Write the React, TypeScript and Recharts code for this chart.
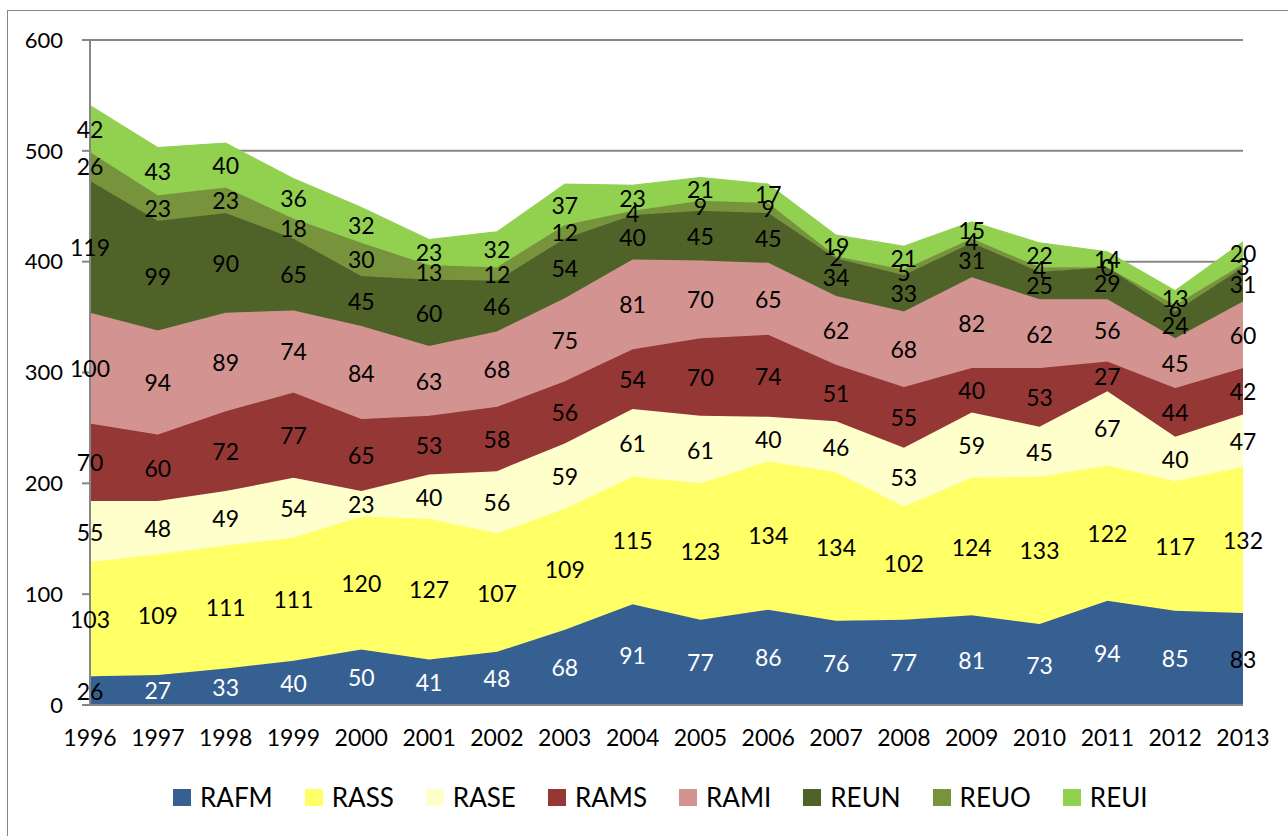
import { Area, ComposedChart, LabelList, Line, XAxis, YAxis, CartesianGrid } from "recharts";

const years = ["1996", "1997", "1998", "1999", "2000", "2001", "2002", "2003", "2004", "2005", "2006", "2007", "2008", "2009", "2010", "2011", "2012", "2013"];

const RAFM = [26, 27, 33, 40, 50, 41, 48, 68, 91, 77, 86, 76, 77, 81, 73, 94, 85, 83];
const RASS = [103, 109, 111, 111, 120, 127, 107, 109, 115, 123, 134, 134, 102, 124, 133, 122, 117, 132];
const RASE = [55, 48, 49, 54, 23, 40, 56, 59, 61, 61, 40, 46, 53, 59, 45, 67, 40, 47];
const RAMS = [70, 60, 72, 77, 65, 53, 58, 56, 54, 70, 74, 51, 55, 40, 53, 27, 44, 42];
const RAMI = [100, 94, 89, 74, 84, 63, 68, 75, 81, 70, 65, 62, 68, 82, 62, 56, 45, 60];
const REUN = [119, 99, 90, 65, 45, 60, 46, 54, 40, 45, 45, 34, 33, 31, 25, 29, 24, 31];
const REUO = [26, 23, 23, 18, 30, 13, 12, 12, 4, 9, 9, 2, 5, 4, 4, 0, 6, 3];
const REUI = [42, 43, 40, 36, 32, 23, 32, 37, 23, 21, 17, 19, 21, 15, 22, 14, 13, 20];

const seriesNames = ["RAFM", "RASS", "RASE", "RAMS", "RAMI", "REUN", "REUO", "REUI"];
const seriesValues = [RAFM, RASS, RASE, RAMS, RAMI, REUN, REUO, REUI];
const seriesColors = ["#376092", "#FFFF66", "#FFFFCC", "#953735", "#D39391", "#4F6228", "#77933C", "#92D050"];

const yTicks = [0, 100, 200, 300, 400, 500, 600];

const FONT = "Lato, 'Open Sans', sans-serif";
const GRID = "#868686";

// one row per year, plus the middle of each band so the labels sit inside it
const data = years.map((year, i) => {
  const row: Record<string, string | number> = { year };
  let base = 0;
  seriesNames.forEach((name, s) => {
    const v = seriesValues[s][i];
    row[name] = v;
    row[`mid_${name}`] = base + v / 2;
    base += v;
  });
  return row;
});

function bandLabel(name: string) {
  return (props: any) => {
    const { x, y, value, index } = props;
    const white = name === "RAFM" && index > 0 && index < years.length - 1;
    return (
      <text
        x={x}
        y={y}
        fill={white ? "#ffffff" : "#000000"}
        textAnchor="middle"
        dominantBaseline="central"
        fontSize={23}
        fontFamily={FONT}
      >
        {value}
      </text>
    );
  };
}

function LegendRow() {
  return (
    <div
      style={{
        position: "absolute",
        left: 173,
        top: 781,
        display: "flex",
        alignItems: "center",
        fontFamily: FONT,
        fontSize: 26,
        color: "#000",
      }}
    >
      {seriesNames.map((name, s) => (
        <div key={name} style={{ display: "flex", alignItems: "center", marginRight: 32 }}>
          <span style={{ width: 18, height: 17, background: seriesColors[s], marginRight: 9, display: "inline-block" }} />
          <span>{name}</span>
        </div>
      ))}
    </div>
  );
}

export default function App() {
  return (
    <div style={{ position: "absolute", left: 0, top: 0, width: 1288, height: 836, background: "#fff", overflow: "hidden" }}>
      <div
        style={{
          position: "absolute",
          left: 7,
          top: 10,
          width: 1300,
          height: 900,
          borderLeft: `1.5px solid ${GRID}`,
          borderTop: `1.5px solid ${GRID}`,
        }}
      />
      <div style={{ position: "absolute", left: 0, top: 0 }}>
        <ComposedChart width={1288} height={836} data={data} margin={{ top: 40, right: 45, bottom: 101, left: 30 }}>
          <CartesianGrid vertical={false} stroke={GRID} strokeWidth={2} />
          <XAxis
            dataKey="year"
            scale="point"
            padding={{ left: 0, right: 0 }}
            height={30}
            tickLine={false}
            tickSize={0}
            tickMargin={25}
            axisLine={{ stroke: GRID, strokeWidth: 2 }}
            tick={{ fill: "#000", fontSize: 23, fontFamily: FONT }}
            interval={0}
          />
          <YAxis
            width={60}
            domain={[0, 600]}
            ticks={yTicks}
            tickSize={8}
            tickMargin={19}
            axisLine={{ stroke: GRID, strokeWidth: 2 }}
            tickLine={{ stroke: GRID, strokeWidth: 2 }}
            tick={{ fill: "#000", fontSize: 22, fontFamily: FONT }}
          />
          {seriesNames.map((name, s) => (
            <Area
              key={name}
              type="linear"
              dataKey={name}
              stackId="total"
              fill={seriesColors[s]}
              fillOpacity={1}
              stroke={seriesColors[s]}
              strokeWidth={1}
              isAnimationActive={false}
              dot={false}
              activeDot={false}
            />
          ))}
          {seriesNames.map((name) => (
            <Line
              key={`mid_${name}`}
              type="linear"
              dataKey={`mid_${name}`}
              stroke="none"
              dot={false}
              activeDot={false}
              legendType="none"
              isAnimationActive={false}
            >
              <LabelList dataKey={name} content={bandLabel(name)} />
            </Line>
          ))}
        </ComposedChart>
      </div>
      <LegendRow />
    </div>
  );
}
